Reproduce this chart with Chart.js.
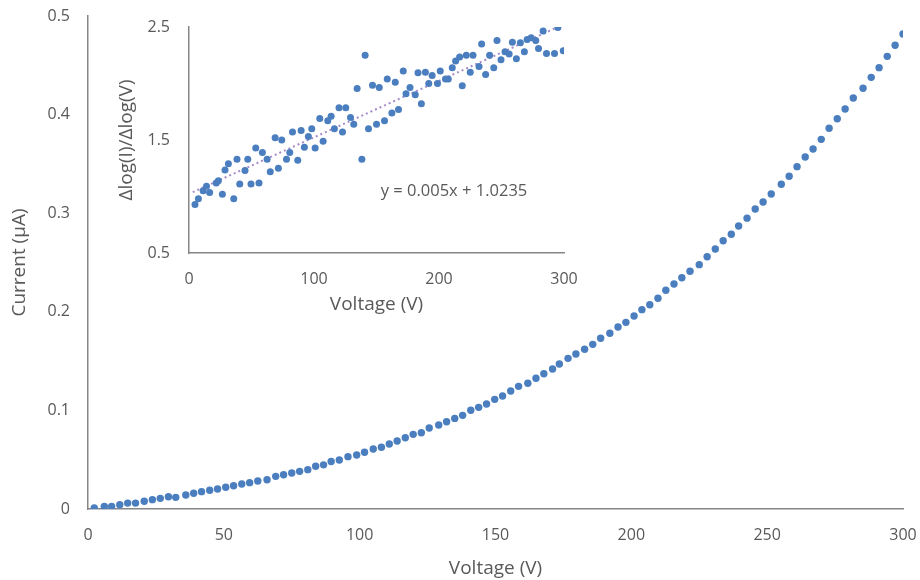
<!DOCTYPE html>
<html><head><meta charset="utf-8">
<script src="https://cdn.jsdelivr.net/npm/chart.js@4/dist/chart.umd.min.js"></script>
<style>
html,body{margin:0;padding:0;background:#fff;}
#wrap{position:relative;width:920px;height:580px;overflow:hidden;}
#main{position:absolute;left:0;top:0;}
#inset{position:absolute;left:110px;top:10px;}
</style></head><body>
<div id="wrap"><canvas id="main" width="920" height="580"></canvas><canvas id="inset" width="470" height="310"></canvas></div>
<script>
// ---- Main chart data: Voltage (V) vs Current (µA) ----
const voltage = [2.3,6.0,8.7,11.7,14.6,17.5,20.7,23.7,26.6,29.6,32.3,36.0,38.9,41.8,44.8,47.7,50.7,53.6,56.6,59.5,62.5,65.9,69.1,72.0,75.0,77.9,80.9,83.8,86.7,89.5,92.5,95.7,98.9,101.8,105.0,108.0,110.9,113.8,116.8,119.7,122.7,125.6,129.1,132.0,135.0,137.9,140.9,143.8,146.7,149.7,152.6,155.6,158.5,161.9,164.9,167.8,171.0,173.5,176.7,179.6,182.8,185.8,188.7,192.1,195.1,198.0,201.0,203.9,206.8,209.8,212.7,215.7,218.6,221.6,225.0,227.9,230.9,233.8,236.8,239.5,242.6,245.6,248.5,251.5,255.2,258.1,261.0,264.0,266.9,269.9,272.8,275.8,278.7,281.7,285.3,288.3,291.2,294.2,297.1,300.0];
const current = [0.001,0.0027,0.0027,0.0044,0.006,0.006,0.0078,0.0095,0.0108,0.0125,0.0118,0.0142,0.0159,0.0176,0.019,0.0203,0.022,0.0236,0.0254,0.0267,0.0284,0.0297,0.0331,0.0348,0.0365,0.0382,0.0399,0.0433,0.0448,0.0481,0.0497,0.0531,0.0548,0.0575,0.0609,0.0626,0.0659,0.069,0.0723,0.0757,0.0774,0.0821,0.0852,0.0885,0.0919,0.095,0.1001,0.1031,0.1065,0.1112,0.1146,0.1197,0.1244,0.1275,0.1326,0.1372,0.142,0.147,0.1528,0.1572,0.162,0.167,0.1731,0.1782,0.1846,0.1893,0.1957,0.2022,0.2072,0.2137,0.2218,0.2282,0.2346,0.2411,0.2478,0.2559,0.2637,0.2721,0.2786,0.287,0.295,0.3043,0.3114,0.3195,0.3293,0.3374,0.3472,0.357,0.3651,0.3749,0.3861,0.3958,0.4057,0.4168,0.4267,0.4378,0.4476,0.4591,0.4703,0.4817];
const mainXTicks = [0,50,100,150,200,250,300];
const mainYTicks = [0,0.1,0.2,0.3,0.4,0.5];

// ---- Inset data: Δlog(I)/Δlog(V) vs Voltage ----
const insetV = [4.8,7.5,11.3,14,16.5,21.8,23.5,26.7,28.8,31.5,35.8,38.4,40.6,44.8,47,49.6,53.4,56,58.7,62.5,65,68.9,71.5,74.2,78,80.6,82.8,87,89.7,92.3,95.5,98.2,100.9,104.6,107.3,111,113.7,116.3,120,122.8,125.4,129.2,131.8,134.5,138.3,140.9,143.6,146.8,150,152.2,156.4,158.6,162.3,165,167.6,171.4,173.6,176.8,181,183.2,185.9,189.1,191.8,194.5,198.8,201,205.2,207.4,210.6,213.3,216.5,218.6,221.8,225,227.2,232,234.1,237.3,240.5,243.8,246.4,249.6,252.8,256.1,258.7,261.9,265.1,268.3,270.5,273.7,277.4,279.6,283.3,286,292.4,295.1,299.4];
const insetRatio = [0.93,0.98,1.05,1.09,1.035,1.12,1.14,1.02,1.235,1.29,0.98,1.33,1.11,1.23,1.33,1.11,1.43,1.12,1.39,1.33,1.22,1.52,1.25,1.50,1.33,1.39,1.57,1.32,1.585,1.435,1.53,1.60,1.43,1.69,1.49,1.67,1.71,1.60,1.785,1.57,1.785,1.70,1.64,1.956,1.33,2.25,1.60,1.985,1.64,1.965,1.67,2.04,1.74,2.01,1.77,2.11,1.91,1.965,1.90,2.095,1.82,2.10,2.0,2.07,2.0,2.11,2.04,2.04,2.14,2.20,2.235,1.98,2.25,2.10,2.25,2.15,2.35,2.08,2.25,2.14,2.38,2.21,2.28,2.26,2.365,2.22,2.36,2.28,2.39,2.405,2.38,2.31,2.465,2.265,2.265,2.495,2.29];
const trendX = [3, 298];
const trendY = [1.0385, 2.5135];
const equationText = 'y = 0.005x + 1.0235';
const equationPos = [212, 1.05];
const insetXTicks = [0,100,200,300];
const insetYTicks = [0.5,1.5,2.5];

const FONT = "'Open Sans', 'Liberation Sans', sans-serif";
const TXT = '#595959';
const AXIS = '#868686';
const DOT = '#4a7ebf';
const TICK_SIZE = 16;
const TITLE_SIZE = 19;

function pts(xs, ys){ return xs.map((x,i)=>({x:x, y:ys[i]})); }
function noPad(s){ s.paddingLeft = 0; s.paddingRight = 0; s.paddingTop = 0; s.paddingBottom = 0; }

new Chart(document.getElementById('main'), {
  type: 'scatter',
  data: { datasets: [{
    data: pts(voltage, current),
    pointRadius: 3.7, pointBorderWidth: 0, pointBackgroundColor: DOT, pointHoverRadius: 3.7
  }]},
  options: {
    responsive: false, animation: false, devicePixelRatio: 1,
    layout: { padding: { top: 16, right: 17, left: 0, bottom: 0 } },
    plugins: { legend: { display: false }, tooltip: { enabled: false } },
    scales: {
      x: {
        type: 'linear', min: 0, max: 300,
        afterBuildTicks: s => { s.ticks = mainXTicks.map(v => ({value: v})); },
        afterFit: s => { s.height = 71; noPad(s); },
        grid: { display: false, drawTicks: false },
        border: { display: true, color: AXIS, width: 1.5 },
        ticks: { color: TXT, font: { family: FONT, size: TICK_SIZE }, padding: 17, maxRotation: 0 },
        title: { display: true, text: 'Voltage (V)', color: TXT, font: { family: FONT, size: TITLE_SIZE }, padding: { top: 0, bottom: 0 } }
      },
      y: {
        type: 'linear', min: 0, max: 0.5,
        afterBuildTicks: s => { s.ticks = mainYTicks.map(v => ({value: v})); },
        afterFit: s => { s.width = 88; noPad(s); },
        grid: { display: false, drawTicks: false },
        border: { display: true, color: AXIS, width: 1.5 },
        ticks: { color: TXT, font: { family: FONT, size: TICK_SIZE }, padding: 18 },
        title: { display: true, text: 'Current (µA)', color: TXT, font: { family: FONT, size: TITLE_SIZE }, padding: { top: 8, bottom: 0 } }
      }
    }
  }
});

const equationPlugin = {
  id: 'equation',
  afterDatasetsDraw(chart) {
    const ctx = chart.ctx;
    const x = chart.scales.x.getPixelForValue(equationPos[0]);
    const y = chart.scales.y.getPixelForValue(equationPos[1]);
    ctx.save();
    ctx.font = "16.5px " + FONT;
    ctx.fillStyle = TXT;
    ctx.textAlign = 'center';
    ctx.textBaseline = 'middle';
    ctx.fillText(equationText, x, y);
    ctx.restore();
  }
};

new Chart(document.getElementById('inset'), {
  type: 'scatter',
  data: { datasets: [
    { data: pts(insetV, insetRatio), pointRadius: 3.5, pointBorderWidth: 0, pointBackgroundColor: DOT, pointHoverRadius: 3.5 },
    { data: pts(trendX, trendY), showLine: true, borderColor: '#a58bc8', borderWidth: 2, borderDash: [2, 3], pointRadius: 0, fill: false }
  ]},
  options: {
    responsive: false, animation: false, devicePixelRatio: 1,
    layout: { padding: { top: 17, right: 16, left: 0, bottom: 0 } },
    plugins: { legend: { display: false }, tooltip: { enabled: false } },
    scales: {
      x: {
        type: 'linear', min: 0, max: 300,
        afterBuildTicks: s => { s.ticks = insetXTicks.map(v => ({value: v})); },
        afterFit: s => { s.height = 67; noPad(s); },
        grid: { display: false, drawTicks: false },
        border: { display: true, color: AXIS, width: 1.5 },
        ticks: { color: TXT, font: { family: FONT, size: TICK_SIZE }, padding: 17, maxRotation: 0 },
        title: { display: true, text: 'Voltage (V)', color: TXT, font: { family: FONT, size: TITLE_SIZE }, padding: { top: 0, bottom: 4 } }
      },
      y: {
        type: 'linear', min: 0.5, max: 2.5,
        afterBuildTicks: s => { s.ticks = insetYTicks.map(v => ({value: v})); },
        afterFit: s => { s.width = 79; noPad(s); },
        grid: { display: false, drawTicks: false },
        border: { display: true, color: AXIS, width: 1.5 },
        ticks: { color: TXT, font: { family: FONT, size: TICK_SIZE }, padding: 19 },
        title: { display: true, text: 'Δlog(I)/Δlog(V)', color: TXT, font: { family: FONT, size: TITLE_SIZE }, padding: { top: 5, bottom: 0 } }
      }
    }
  },
  plugins: [equationPlugin]
});
</script>
</body></html>
